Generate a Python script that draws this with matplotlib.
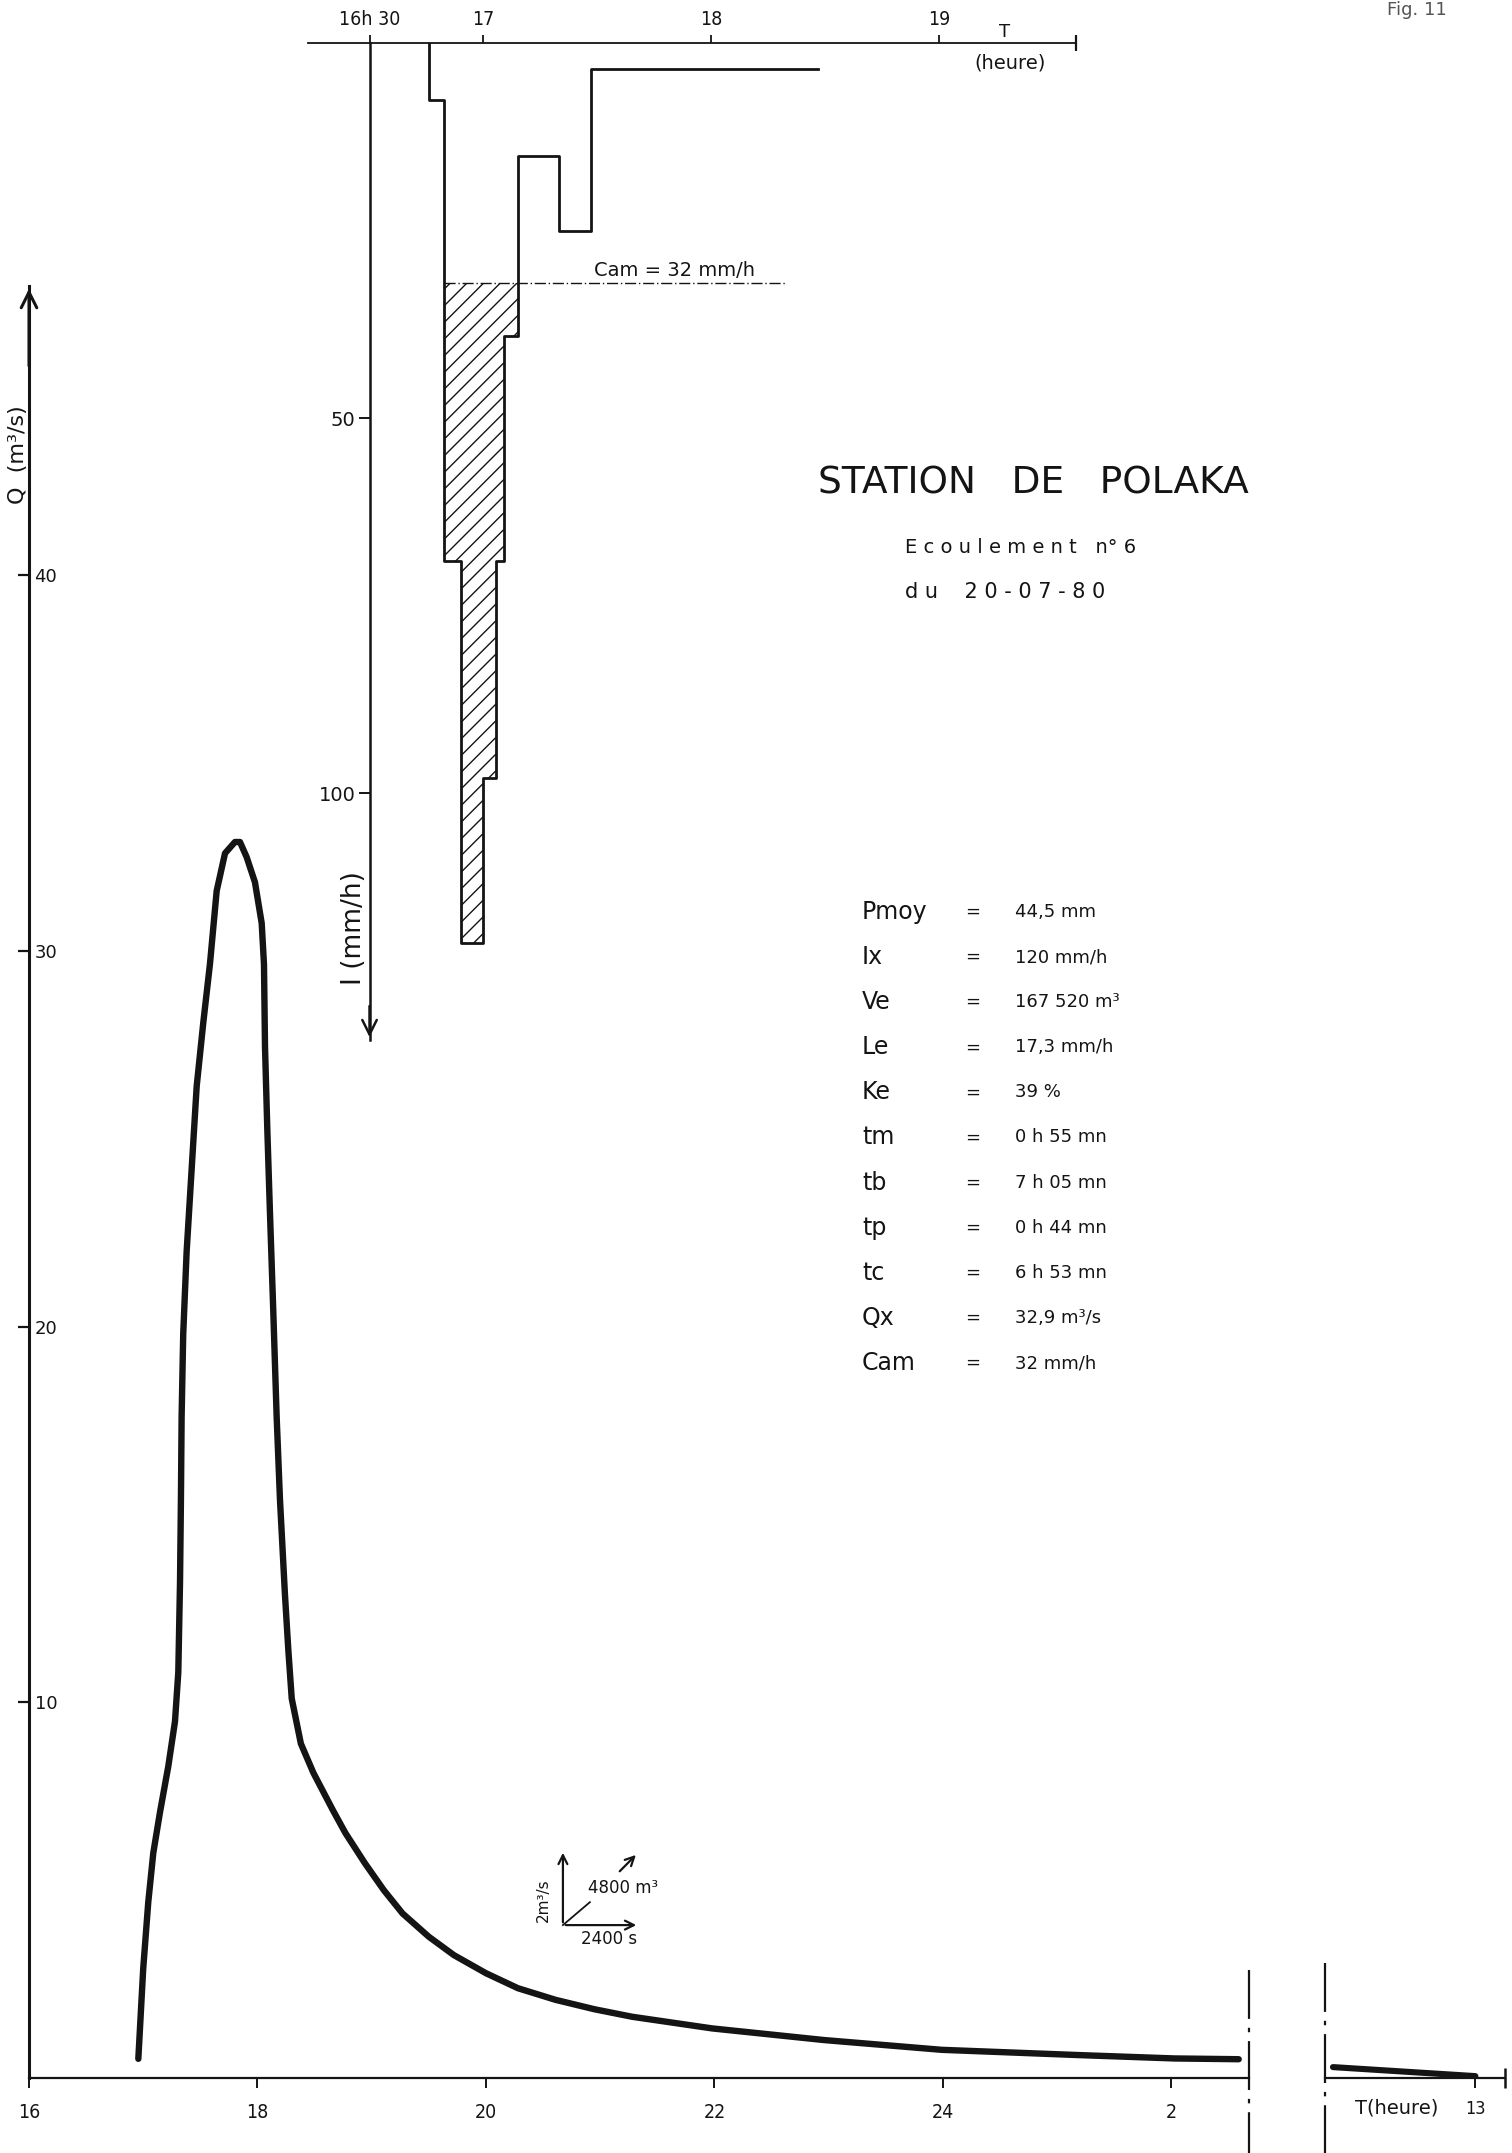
import matplotlib.pyplot as plt
import numpy as np

W, H = 1512, 2153
INK = "#141414"

# hyétogramme : bornes des pas de temps (heures décimales) et intensités (mm/h)
rain_edges = [16.762, 16.827, 16.902, 17.000, 17.055, 17.092, 17.152, 17.333, 17.473, 18.467]
rain_int = [7.6, 69, 120, 98, 69, 39, 15, 25, 3.4]
cam = 32

# hydrogramme de crue (heures décimales, m3/s)
q_hours = [16.957, 17.0, 17.044, 17.088, 17.147, 17.219, 17.278, 17.307, 17.322, 17.33,
           17.336, 17.35, 17.38, 17.424, 17.468, 17.526, 17.584, 17.643, 17.716, 17.803,
           17.847, 17.905, 17.978, 18.037, 18.057, 18.066, 18.086, 18.109, 18.138, 18.168,
           18.197, 18.24, 18.27, 18.30, 18.38, 18.49, 18.66, 18.77, 18.94, 19.106,
           19.27, 19.50, 19.72, 20.0, 20.28, 20.61, 20.95, 21.28, 21.98, 22.96,
           23.99, 25.19, 26.03, 26.59]
q_vals = [0.51, 2.92, 4.68, 5.99, 7.08, 8.29, 9.49, 10.8, 13.2, 15.4,
          17.6, 19.8, 22.0, 24.2, 26.4, 28.1, 29.65, 31.6, 32.6, 32.9,
          32.9, 32.5, 31.83, 30.74, 29.65, 27.45, 25.27, 23.07, 20.45, 17.6,
          15.4, 12.9, 11.4, 10.1, 8.9, 8.12, 7.13, 6.52, 5.72, 5.0,
          4.38, 3.76, 3.27, 2.79, 2.39, 2.08, 1.83, 1.63, 1.32, 1.01,
          0.75, 0.61, 0.52, 0.50]
# fin de la décrue, lendemain
tail_hours = [11.75, 13.0]
tail_q = [0.29, 0.05]

x_ticks = [16, 18, 20, 22, 24, 26]
x_labels = ["16", "18", "20", "22", "24", "2"]
q_ticks = [10, 20, 30, 40]
t_ticks = [16.5, 17, 18, 19]
t_labels = ["16h 30", "17", "18", "19"]
i_ticks = [50, 100]

params = ["Pmoy", "Ix", "Ve", "Le", "Ke", "tm", "tb", "tp", "tc", "Qx", "Cam"]
values = ["44,5 mm", "120 mm/h", "167 520 m³", "17,3 mm/h", "39 %", "0 h 55 mn",
          "7 h 05 mn", "0 h 44 mn", "6 h 53 mn", "32,9 m³/s", "32 mm/h"]


def px_rect(x0, y0, x1, y1):
    return [x0 / W, 1 - y1 / H, (x1 - x0) / W, (y1 - y0) / H]


def ftext(x, y, s, **kw):
    kw.setdefault("color", INK)
    fig.text(x / W, 1 - y / H, s, **kw)


plt.rcParams["font.family"] = "DejaVu Sans"
plt.rcParams["hatch.linewidth"] = 1.0
fig = plt.figure(figsize=(W / 100, H / 100), dpi=100)

# ---------------- hydrogramme ----------------
ax = fig.add_axes(px_rect(29, 286, 1249, 2078))
ax.set_xlim(16, 26.68)
ax.set_ylim(0, 47.7)
for s in ("top", "right"):
    ax.spines[s].set_visible(False)
ax.spines["left"].set_linewidth(2.2)
ax.spines["bottom"].set_linewidth(1.6)
for s in ("left", "bottom"):
    ax.spines[s].set_color(INK)
ax.patch.set_alpha(0)

ax.plot(q_hours, q_vals, color=INK, lw=4.6, solid_capstyle="round", solid_joinstyle="round")

ax.set_xticks(x_ticks)
ax.set_xticklabels(x_labels, fontsize=14, stretch="condensed")
ax.tick_params(axis="x", direction="out", length=7, width=1.4, pad=11, colors=INK)
ax.set_yticks(q_ticks)
ax.set_yticklabels([str(v) for v in q_ticks], fontsize=13)
ax.tick_params(axis="y", direction="out", length=8, width=1.6, pad=-12, colors=INK)
for lab in ax.get_yticklabels():
    lab.set_horizontalalignment("left")
ax.annotate("", xy=(16, 47.7), xytext=(16, 45.5), annotation_clip=False,
            arrowprops=dict(arrowstyle="->", lw=2.2, color=INK, mutation_scale=28))
ax.text(15.9, 43.2, "Q  (m³/s)", rotation=90, fontsize=16, ha="center", va="center", color=INK)

# coupure de l'axe des temps
brk = dict(color=INK, lw=1.6, dashes=(22, 4, 2, 4), clip_on=False)
ax.plot([26.68, 26.68], [2.88, -2.0], **brk)

# symbole d'échelle
x0, y0 = 20.674, 4.07
arr = dict(arrowstyle="->", lw=1.6, color=INK, mutation_scale=16)
ax.annotate("", xy=(x0, y0 + 2), xytext=(x0, y0), arrowprops=arr)
ax.annotate("", xy=(x0 + 2 / 3, y0), xytext=(x0, y0), arrowprops=arr)
ax.plot([x0, x0 + 0.236], [y0, y0 + 0.61], color=INK, lw=1.3)
ax.annotate("", xy=(x0 + 0.656, y0 + 1.92), xytext=(x0 + 0.48, y0 + 1.38), arrowprops=arr)
ax.text(x0 + 0.53, y0 + 1.0, "4800 m³", fontsize=12, ha="center", va="center", color=INK)
ax.text(x0 + 0.40, y0 - 0.36, "2400 s", fontsize=12, ha="center", va="center", color=INK)
ax.text(x0 - 0.17, y0 + 0.67, "2m³/s", fontsize=11, rotation=90, ha="center", va="center", color=INK)

# partie après la coupure
ax2 = fig.add_axes(px_rect(1325, 286, 1505, 2078))
ax2.set_xlim(11.68, 13.26)
ax2.set_ylim(0, 47.7)
for s in ("top", "right", "left"):
    ax2.spines[s].set_visible(False)
ax2.spines["bottom"].set_linewidth(1.6)
ax2.spines["bottom"].set_color(INK)
ax2.patch.set_alpha(0)
ax2.set_yticks([])
ax2.plot(tail_hours, tail_q, color=INK, lw=4.4, solid_capstyle="round")
ax2.set_xticks([13])
ax2.set_xticklabels(["13"], fontsize=13, stretch="condensed")
ax2.tick_params(axis="x", direction="out", length=7, width=1.4, pad=9, colors=INK)
ax2.plot([13.26], [0], marker="|", ms=14, mew=1.8, color=INK, clip_on=False)
ax2.plot([11.68, 11.68], [3.07, -2.0], **brk)
ax2.text(12.31, -0.8, "T(heure)", fontsize=14, ha="center", va="center", color=INK)

# ---------------- hyétogramme ----------------
axi = fig.add_axes(px_rect(308, 43, 1076, 1040))
axi.set_xlim(16.23, 19.60)
axi.set_ylim(132.9, 0)
axi.patch.set_alpha(0)
for s in ("right", "bottom"):
    axi.spines[s].set_visible(False)
axi.spines["left"].set_position(("data", 16.5))
axi.spines["left"].set_linewidth(1.8)
axi.spines["top"].set_linewidth(1.3)
for s in ("left", "top"):
    axi.spines[s].set_color(INK)

edges = np.array(rain_edges)
vals = np.array(rain_int)
axi.plot(np.r_[edges[0], edges], np.r_[0, vals, vals[-1]], drawstyle="steps-post",
         color=INK, lw=2.0)
axi.fill_between(edges, cam, np.r_[np.maximum(vals, cam), cam], step="post",
                 facecolor="none", edgecolor=INK, hatch="//", lw=0)
axi.plot([edges[1], 18.33], [cam, cam], color=INK, lw=1.0, dashes=(8, 2, 1, 2))
axi.text(17.84, cam - 0.4, "Cam = 32 mm/h", fontsize=14, ha="center", va="bottom", color=INK)

axi.xaxis.set_ticks_position("top")
axi.set_xticks(t_ticks)
axi.set_xticklabels(t_labels, fontsize=14, stretch="condensed")
axi.tick_params(axis="x", direction="out", length=6, width=1.3, pad=4, colors=INK)
axi.set_yticks(i_ticks)
axi.set_yticklabels([str(v) for v in i_ticks], fontsize=14)
axi.tick_params(axis="y", direction="out", length=8, width=1.4, pad=2, colors=INK)
axi.annotate("", xy=(16.5, 132.9), xytext=(16.5, 128), annotation_clip=False,
             arrowprops=dict(arrowstyle="->", lw=1.8, color=INK, mutation_scale=26))
axi.plot([19.60], [0], marker="|", ms=12, mew=1.6, color=INK, clip_on=False)
axi.text(19.285, -1.4, "T", fontsize=13, ha="center", va="center", color=INK)
axi.text(19.31, 2.7, "(heure)", fontsize=14, ha="center", va="center", color=INK)
axi.text(16.43, 118, "I (mm/h)", rotation=90, fontsize=19, ha="center", va="center", color=INK)

# ---------------- textes ----------------
ftext(1033, 483, "STATION   DE   POLAKA", fontsize=27, ha="center", va="center")
ftext(905, 547, "E c o u l e m e n t   n° 6", fontsize=14, ha="left", va="center")
ftext(905, 592, "d u    2 0 - 0 7 - 8 0", fontsize=15, ha="left", va="center")

rows = np.linspace(912, 1363, len(params))
for name, val, y in zip(params, values, rows):
    ftext(862, y, name, fontsize=17, ha="left", va="center")
    ftext(973, y, "=", fontsize=13, ha="center", va="center")
    ftext(1015, y, val, fontsize=13, ha="left", va="center")

ftext(1417, 10, "Fig. 11", fontsize=13, ha="center", va="center", color="#555555")

fig.savefig("out.png", dpi=100, facecolor="white")
